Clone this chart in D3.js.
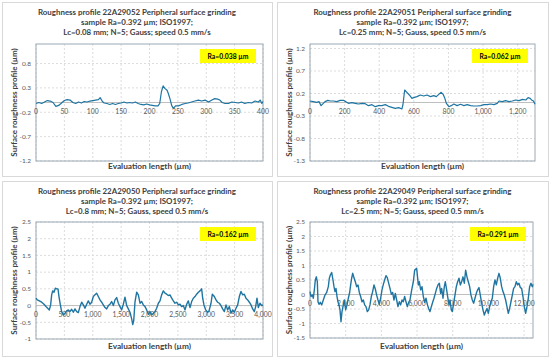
<!DOCTYPE html>
<html>
    <head>
        <title>Roughness profiles</title>
        <script src="https://d3js.org/d3.v7.min.js"></script>
        <meta charset="UTF-8">
        <style>
            body { margin: 0; background: #fff; }
            text { font-family: Lato, "Open Sans", sans-serif; }
        </style>
    </head>
    <body>
        <script>
            // ---- data ----
            var titles1 = ["Roughness profile 22A29052 Peripheral surface grinding", "sample Ra=0.392\u202fµm; ISO1997;", "Lc=0.08\u202fmm; N=5; Gauss;  speed 0.5\u202fmm/s"];
            var titles2 = ["Roughness profile 22A29051 Peripheral surface grinding", "sample Ra=0.392\u202fµm; ISO1997;", "Lc=0.25\u202fmm; N=5; Gauss,  speed 0.5\u202fmm/s"];
            var titles3 = ["Roughness profile 22A29050 Peripheral surface grinding", "sample Ra=0.392\u202fµm; ISO1997;", "Lc=0.8\u202fmm; N=5; Gauss, speed 0.5\u202fmm/s"];
            var titles4 = ["Roughness profile 22A29049 Peripheral surface grinding", "sample Ra=0.392\u202fµm; ISO1997;", "Lc=2.5\u202fmm; N=5; Gauss, speed 0.5\u202fmm/s"];
            var raLabels = ["Ra=0.038\u202fµm", "Ra=0.062\u202fµm", "Ra=0.162\u202fµm", "Ra=0.291\u202fµm"];
            var yTitle = "Surface roughness profile (µm)";
            var xTitle = "Evaluation  length (µm)";

            var xTicks1 = [0, 50, 100, 150, 200, 250, 300, 350, 400];
            var xTicks2 = [0, 200, 400, 600, 800, 1000, 1200];
            var xTicks3 = [0, 500, 1000, 1500, 2000, 2500, 3000, 3500, 4000];
            var xTicks4 = [0, 2000, 4000, 6000, 8000, 10000, 12000];
            var yTicks1 = [-1.2, -0.7, -0.2, 0.3, 0.8];
            var yTicks2 = [-1.3, -0.8, -0.3, 0.2, 0.7, 1.2];
            var yTicks3 = [-1, -0.5, 0, 0.5, 1, 1.5, 2, 2.5];
            var yTicks4 = [-1.5, -1, -0.5, 0, 0.5, 1, 1.5, 2, 2.5];
            var xMax = [400, 1300, 4000, 12500];
            var yRange1 = [-1.2, 1.2], yRange2 = [-1.3, 1.3], yRange3 = [-1, 2.5], yRange4 = [-1.5, 2.5];

            var p1X = [0,5,10,15,20,25,30,35,40,45,50,55,60,65,70,75,80,85,90,95,100,105,110,113,117,120,125,130,135,140,145,150,155,160,165,170,175,180,185,190,195,200,205,210,215,218,221,224,227,231,233,236,239,242,246,251,257,263,268,274,280,286,292,298,304,310,315,320,324,328,333,339,345,351,357,362,368,374,380,386,392,395,398,400];
            var p1Y = [-0.02,0.00,-0.02,0.01,0.04,0.03,0.00,-0.08,-0.06,-0.01,0.04,0.06,0.05,0.00,-0.02,0.01,-0.01,0.02,0.01,0.03,0.04,0.05,0.06,0.10,0.02,-0.01,-0.02,-0.04,-0.02,-0.04,-0.02,-0.01,0.01,-0.01,0.00,-0.01,0.01,-0.02,-0.04,-0.05,-0.03,-0.05,-0.06,-0.07,-0.07,-0.02,0.22,0.34,0.29,0.25,0.19,0.08,-0.06,-0.12,-0.07,-0.07,-0.04,-0.02,-0.01,0.01,0.03,0.05,0.03,0.05,0.01,0.05,0.08,0.07,0.05,0.00,-0.02,-0.02,0.01,0.00,-0.01,0.01,-0.02,0.00,-0.01,0.03,0.01,0.05,-0.02,0.02];

            var p2X = [0,19,39,52,64,77,87,103,116,135,155,174,193,207,222,242,261,280,300,319,338,358,377,396,415,435,454,473,493,512,531,537,547,560,574,589,599,618,638,657,676,696,715,730,744,758,769,779,788,802,816,831,850,870,889,908,928,947,966,986,1005,1024,1044,1063,1082,1092,1111,1130,1150,1169,1188,1208,1228,1247,1260,1272,1280,1291,1300];
            var p2Y = [0.033,0.019,0.004,0.019,-0.07,-0.019,0.019,0.048,0.033,0.033,0.019,0.048,0.048,0.019,-0.019,-0.004,-0.019,-0.033,-0.019,-0.026,-0.07,-0.048,-0.093,-0.07,-0.07,-0.048,-0.085,-0.107,-0.13,-0.115,-0.144,-0.05,0.278,0.226,0.167,0.093,0.107,0.13,0.167,0.144,0.167,0.13,0.152,0.13,0.181,0.226,0.181,0.093,-0.019,-0.093,-0.07,-0.033,-0.07,-0.04,-0.07,-0.048,-0.07,-0.078,-0.078,-0.07,-0.048,-0.048,-0.033,-0.048,-0.019,0.033,0.019,0.041,0.019,0.033,0.056,0.041,0.07,0.056,0.107,0.093,0.056,0.033,-0.04];

            var p3X = [0,23,59,100,141,176,206,235,258,276,294,317,341,364,388,405,429,452,482,511,540,570,599,628,658,687,717,746,775,805,834,863,893,922,951,981,1010,1040,1069,1098,1128,1157,1186,1216,1245,1275,1304,1333,1363,1392,1421,1451,1480,1510,1539,1568,1598,1627,1656,1686,1705,1722,1744,1774,1803,1833,1862,1891,1921,1950,1980,2009,2038,2068,2097,2126,2156,2185,2214,2244,2273,2303,2332,2361,2391,2420,2449,2479,2508,2538,2567,2596,2626,2655,2684,2714,2743,2772,2802,2831,2861,2890,2919,2937,2960,2990,3025,3049,3084,3107,3142,3172,3201,3231,3260,3289,3319,3348,3377,3407,3436,3466,3495,3524,3554,3583,3612,3642,3671,3700,3730,3759,3789,3818,3847,3871,3894,3918,3947,3977,4000];
            var p3Y = [0.22,0.17,0.14,0.10,0.04,-0.03,-0.08,-0.13,0.02,0.32,0.44,0.40,0.52,0.50,0.50,0.27,0.02,-0.18,-0.28,-0.23,-0.16,-0.13,-0.18,-0.11,-0.20,-0.10,-0.18,-0.21,-0.03,0.10,0.02,-0.08,0.04,0.14,0.04,0.10,0.27,0.32,0.37,0.27,0.17,0.10,0.02,-0.06,-0.10,0.00,0.04,0.12,0.00,0.17,0.24,0.07,-0.03,-0.13,0.04,0.25,0.00,-0.10,-0.20,-0.40,-0.57,-0.45,0.10,0.40,0.32,0.07,0.12,0.02,-0.03,-0.13,-0.26,-0.18,-0.28,-0.23,-0.18,-0.08,0.07,0.14,0.32,0.44,0.37,0.34,0.30,0.32,0.22,0.14,0.07,0.10,0.02,0.04,-0.03,0.00,-0.13,0.04,0.14,-0.06,0.12,0.22,0.27,0.34,0.40,0.44,0.50,0.22,0.02,-0.13,-0.20,-0.16,0.07,0.34,0.27,0.17,0.10,0.07,0.00,-0.10,-0.18,0.02,-0.13,-0.03,-0.23,-0.13,-0.20,-0.08,0.02,0.27,0.42,0.32,0.34,0.22,0.17,0.10,0.02,-0.10,-0.18,-0.03,0.22,-0.06,0.07,0.00,0.02];

            var p4X = [0,56,131,187,243,299,355,411,448,504,579,654,747,841,934,1027,1083,1140,1214,1289,1345,1401,1457,1513,1569,1625,1681,1737,1793,1849,1924,1999,2073,2148,2223,2279,2335,2391,2466,2540,2615,2690,2765,2839,2914,2989,3064,3138,3213,3288,3362,3437,3512,3587,3661,3736,3811,3885,3960,4035,4110,4184,4259,4334,4408,4483,4558,4633,4707,4782,4857,4932,5006,5081,5156,5230,5305,5380,5455,5529,5604,5700,5792,5867,5979,6072,6128,6203,6278,6352,6427,6502,6577,6651,6726,6801,6876,6950,7025,7100,7174,7249,7324,7380,7455,7529,7585,7660,7716,7791,7847,7922,7978,8052,8127,8202,8276,8351,8426,8500,8575,8650,8725,8799,8874,8949,9024,9098,9173,9248,9322,9397,9472,9546,9621,9696,9771,9845,9920,9995,10069,10144,10219,10294,10368,10443,10518,10593,10667,10742,10817,10891,10966,11041,11116,11190,11265,11340,11414,11489,11564,11639,11713,11788,11863,11937,12012,12087,12162,12236,12311,12386,12460,12500];
            var p4Y = [0.10,-0.07,-0.02,-0.13,0.16,0.50,0.61,0.44,-0.25,-0.34,-0.27,-0.36,-0.19,-0.02,0.07,0.27,0.56,0.67,0.76,0.50,0.27,0.10,0.21,-0.07,-0.25,-0.36,-0.53,-0.94,-0.59,-0.42,-0.19,-0.53,-0.36,-0.13,0.07,0.33,0.56,0.73,0.58,0.44,0.27,0.33,0.07,-0.07,-0.25,-0.19,-0.36,-0.42,-0.59,-0.53,-0.36,-0.07,0.10,0.33,0.19,-0.02,-0.19,-0.34,-0.13,0.16,0.35,0.50,0.65,0.58,0.39,0.21,0.01,0.07,-0.19,0.04,-0.19,-0.42,-0.25,-0.36,-0.19,-0.25,-0.07,-0.25,-0.42,-0.27,-0.19,0.16,0.44,0.84,0.90,0.33,0.44,0.16,0.27,-0.07,-0.27,-0.13,-0.34,-0.48,-0.59,-0.42,-0.27,-0.13,0.04,0.21,0.33,0.39,0.04,0.21,-0.13,0.27,0.44,0.16,-0.07,-0.36,-0.19,-0.53,-0.59,-0.30,-0.02,0.27,0.44,0.56,0.33,0.44,0.61,0.39,0.84,0.61,0.44,0.27,-0.02,-0.19,-0.30,-0.13,0.04,0.16,0.24,-0.02,-0.30,-0.53,-0.71,-0.59,-0.48,-0.65,-0.42,-0.25,-0.13,0.27,0.50,0.33,0.56,0.73,0.56,0.27,0.10,-0.02,-0.19,-0.42,-0.65,-0.48,-0.25,-0.02,0.21,0.27,0.44,0.33,0.39,0.24,0.21,-0.07,-0.42,-0.65,-0.42,-0.13,0.27,0.39,0.27,0.35];

            // ---- layout ----
            var w = 550, h = 359;
            var panels = [
                {box: [2, 2, 270, 174], plot: [36, 44, 227, 117], title: titles1, xt: xTicks1, yt: yTicks1, xmax: xMax[0], yr: yRange1, xs: p1X, ys: p1Y, ra: raLabels[0], lw: 1.2},
                {box: [277, 2, 271, 174], plot: [310, 44, 225, 117], title: titles2, xt: xTicks2, yt: yTicks2, xmax: xMax[1], yr: yRange2, xs: p2X, ys: p2Y, ra: raLabels[1], lw: 1.2},
                {box: [2, 181, 270, 175], plot: [36, 222, 227, 117], title: titles3, xt: xTicks3, yt: yTicks3, xmax: xMax[2], yr: yRange3, xs: p3X, ys: p3Y, ra: raLabels[2], lw: 1.4},
                {box: [277, 181, 271, 175], plot: [310, 222, 223, 116], title: titles4, xt: xTicks4, yt: yTicks4, xmax: xMax[3], yr: yRange4, xs: p4X, ys: p4Y, ra: raLabels[3], lw: 1.4}
            ];

            var svg = d3.select("body")
                    .append("svg")
                    .attr("width", w)
                    .attr("height", h);

            svg.append("rect").attr("width", w).attr("height", h).attr("fill", "#fff");

            panels.forEach(function (p) {
                var bx = p.box[0], by = p.box[1], bw = p.box[2], bh = p.box[3];
                var left = p.plot[0], top = p.plot[1], pw = p.plot[2], ph = p.plot[3];
                var g = svg.append("g");

                g.append("rect")
                        .attr("x", bx + 0.5).attr("y", by + 0.5)
                        .attr("width", bw).attr("height", bh)
                        .attr("fill", "#fff").attr("stroke", "#d9d9d9");

                var xscale = d3.scaleLinear().domain([0, p.xmax]).range([left, left + pw]);
                var yscale = d3.scaleLinear().domain(p.yr).range([top + ph, top]);

                // title
                g.selectAll(".title")
                        .data(p.title)
                        .enter()
                        .append("text")
                        .attr("x", bx + bw / 2)
                        .attr("y", function (d, i) { return by + 12.5 + i * 10; })
                        .attr("text-anchor", "middle")
                        .attr("font-size", 7.9)
                        .attr("font-weight", "bold")
                        .attr("fill", "#404040")
                        .text(function (d) { return d; });

                // grid
                g.selectAll(".vgrid")
                        .data(p.xt)
                        .enter()
                        .append("line")
                        .attr("x1", function (d) { return xscale(d); })
                        .attr("x2", function (d) { return xscale(d); })
                        .attr("y1", top).attr("y2", top + ph)
                        .attr("stroke", "#dcdcdc").attr("stroke-dasharray", "2,2");
                g.selectAll(".hgrid")
                        .data(p.yt)
                        .enter()
                        .append("line")
                        .attr("x1", left).attr("x2", left + pw)
                        .attr("y1", function (d) { return yscale(d); })
                        .attr("y2", function (d) { return yscale(d); })
                        .attr("stroke", "#dcdcdc").attr("stroke-dasharray", "2,2");

                // zero axis
                g.append("line")
                        .attr("x1", left).attr("x2", left + pw)
                        .attr("y1", yscale(0)).attr("y2", yscale(0))
                        .attr("stroke", "#bfbfbf");

                // plot border
                g.append("rect")
                        .attr("x", left).attr("y", top)
                        .attr("width", pw).attr("height", ph)
                        .attr("fill", "none").attr("stroke", "#9aaab4");

                // y tick labels
                g.selectAll(".ylab")
                        .data(p.yt)
                        .enter()
                        .append("text")
                        .attr("x", left - 5)
                        .attr("y", function (d) { return yscale(d) + 2.3; })
                        .attr("text-anchor", "end")
                        .attr("font-size", 6.5)
                        .attr("fill", "#595959")
                        .text(function (d) { return String(d); });

                // x tick labels under the zero line
                g.selectAll(".xlab")
                        .data(p.xt)
                        .enter()
                        .append("text")
                        .attr("x", function (d) { return xscale(d); })
                        .attr("y", yscale(0) + 11.5)
                        .attr("text-anchor", "middle")
                        .attr("font-size", 6.8)
                        .attr("fill", "#595959")
                        .text(function (d) { return d3.format(",")(d); });

                // profile
                var line = d3.line()
                        .x(function (d) { return xscale(d[0]); })
                        .y(function (d) { return yscale(d[1]); });
                g.append("path")
                        .datum(d3.zip(p.xs, p.ys))
                        .attr("d", line)
                        .attr("fill", "none")
                        .attr("stroke", "#1f75a2")
                        .attr("stroke-width", p.lw)
                        .attr("stroke-linejoin", "round");

                // Ra box
                var rx = left + pw - 7 - 56, ry = top + 5;
                g.append("rect")
                        .attr("x", rx).attr("y", ry)
                        .attr("width", 56).attr("height", 14)
                        .attr("fill", "#ffff00");
                g.append("text")
                        .attr("x", rx + 28).attr("y", ry + 9.5)
                        .attr("text-anchor", "middle")
                        .attr("font-size", 6.8)
                        .attr("font-weight", "bold")
                        .attr("fill", "#000")
                        .text(p.ra);

                // axis titles
                g.append("text")
                        .attr("transform", "translate(" + (bx + 15) + "," + (top + ph / 2) + ") rotate(-90)")
                        .attr("text-anchor", "middle")
                        .attr("font-size", 8)
                        .attr("font-weight", "bold")
                        .attr("fill", "#404040")
                        .text(yTitle);
                g.append("text")
                        .attr("x", left + pw / 2)
                        .attr("y", by + bh - 7.5)
                        .attr("text-anchor", "middle")
                        .attr("font-size", 8.3)
                        .attr("font-weight", "bold")
                        .attr("fill", "#404040")
                        .text(xTitle);
            });
        </script>
    </body>
</html>
